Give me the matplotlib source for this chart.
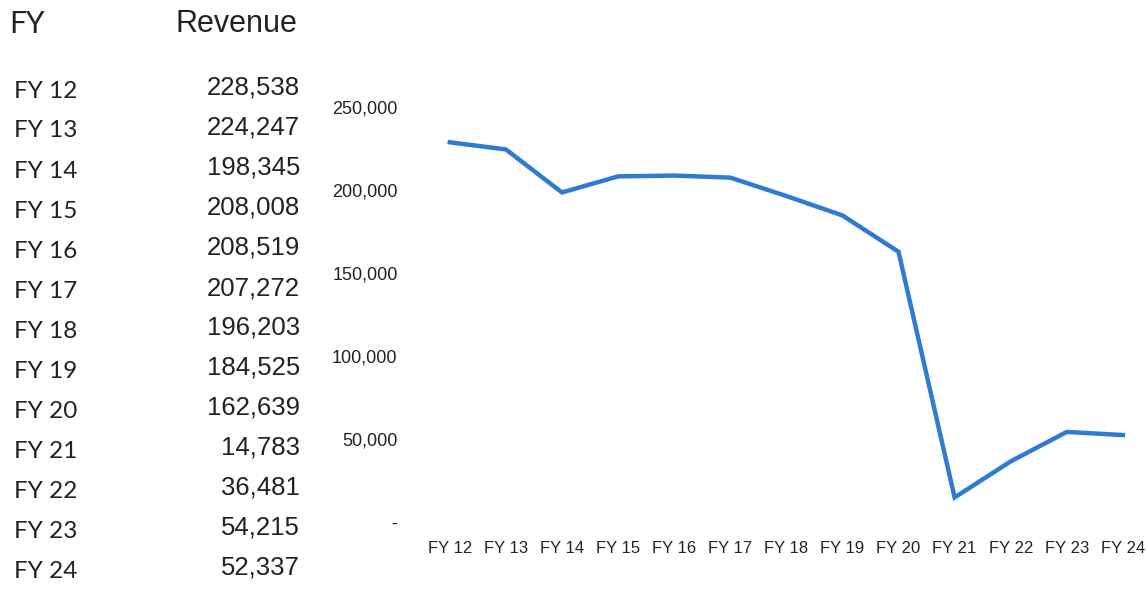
import matplotlib.pyplot as plt
from matplotlib.ticker import FuncFormatter

years = ["FY 12", "FY 13", "FY 14", "FY 15", "FY 16", "FY 17", "FY 18",
         "FY 19", "FY 20", "FY 21", "FY 22", "FY 23", "FY 24"]
revenue = [228538, 224247, 198345, 208008, 208519, 207272, 196203,
           184525, 162639, 14783, 36481, 54215, 52337]
yticks = [0, 50000, 100000, 150000, 200000, 250000]

W, H = 1147, 590
fig = plt.figure(figsize=(W / 100, H / 100), dpi=100)


def px(x, y):
    return x / W, 1 - y / H


# table on the left
fig.text(*px(9, 24), "FY", fontsize=21.5, family="Lato", color="#222222", va="center")
fig.text(*px(297, 24), "Revenue", fontsize=22, family="Liberation Sans",
         color="#222222", va="center", ha="right")
for i, (fy, rev) in enumerate(zip(years, revenue)):
    y = 90 + 40 * i
    fig.text(*px(14, y + 1), fy, fontsize=17.5, family="Lato", color="#222222", va="center")
    fig.text(*px(300, y - 2), f"{rev:,}", fontsize=18.5, family="Liberation Sans",
             color="#222222", va="center", ha="right")

# line chart
left, right = 424, 1147
top, bottom = 95, 522
ax = fig.add_axes([left / W, 1 - bottom / H, (right - left) / W, (bottom - top) / H])
ax.plot(range(len(years)), revenue, color="#2E7BD2", linewidth=3.2,
        solid_joinstyle="miter")
ax.set_xlim(-0.46, 12.43)
ax.set_ylim(0, 257000)
ax.set_xticks(range(len(years)))
ax.set_xticklabels(years)
ax.set_yticks(yticks)
ax.yaxis.set_major_formatter(FuncFormatter(lambda v, p: "-" if v == 0 else f"{int(v):,}"))
for s in ax.spines.values():
    s.set_visible(False)
ax.tick_params(axis="x", length=0, pad=14, labelsize=12)
ax.tick_params(axis="y", length=0, pad=19, labelsize=13)
for lab in ax.get_xticklabels() + ax.get_yticklabels():
    lab.set_family("Liberation Sans")
    lab.set_color("#222222")

fig.savefig("out.png", dpi=100)
